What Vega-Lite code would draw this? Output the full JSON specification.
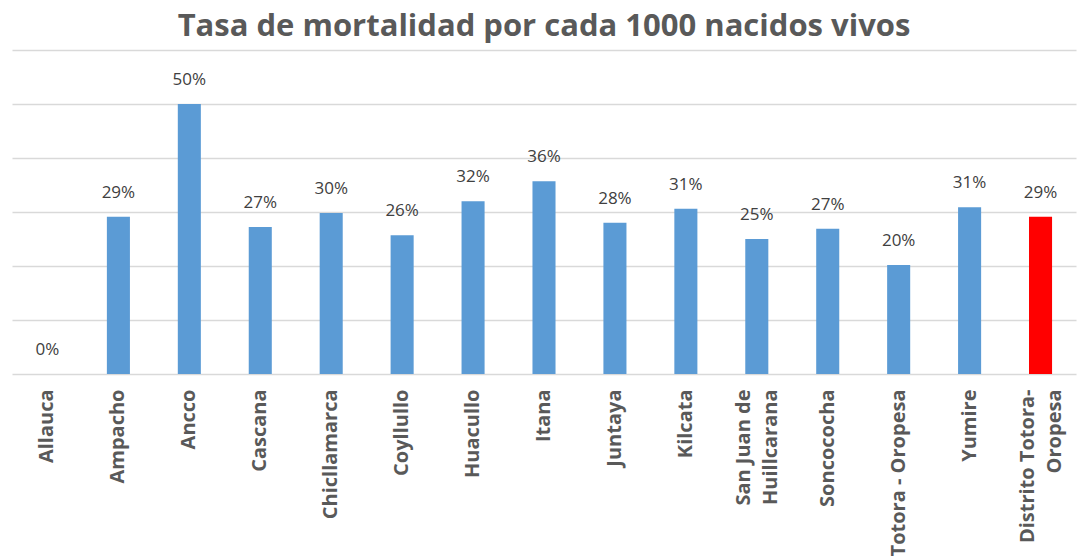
{
  "$schema": "https://vega.github.io/schema/vega-lite/v6.json",
  "width": 1064,
  "height": 324,
  "autosize": {"type": "none"},
  "padding": {"left": 12, "top": 50, "right": 7, "bottom": 183},
  "background": "white",
  "title": {
    "text": "Tasa de mortalidad por cada 1000 nacidos vivos",
    "font": "Open Sans",
    "fontSize": 31,
    "fontWeight": "bold",
    "color": "#595959",
    "anchor": "middle",
    "baseline": "alphabetic",
    "offset": 12,
    "dy": 29
  },
  "data": {
    "values": [
      {"lugar": "Allauca", "tasa": 0.0, "tipo": "c"},
      {"lugar": "Ampacho", "tasa": 0.291, "tipo": "c"},
      {"lugar": "Ancco", "tasa": 0.50, "tipo": "c"},
      {"lugar": "Cascana", "tasa": 0.272, "tipo": "c"},
      {"lugar": "Chicllamarca", "tasa": 0.298, "tipo": "c"},
      {"lugar": "Coyllullo", "tasa": 0.257, "tipo": "c"},
      {"lugar": "Huacullo", "tasa": 0.32, "tipo": "c"},
      {"lugar": "Itana", "tasa": 0.357, "tipo": "c"},
      {"lugar": "Juntaya", "tasa": 0.28, "tipo": "c"},
      {"lugar": "Kilcata", "tasa": 0.306, "tipo": "c"},
      {"lugar": "San Juan de Huillcarana", "tasa": 0.25, "tipo": "c"},
      {"lugar": "Soncococha", "tasa": 0.269, "tipo": "c"},
      {"lugar": "Totora - Oropesa", "tasa": 0.202, "tipo": "c"},
      {"lugar": "Yumire", "tasa": 0.309, "tipo": "c"},
      {"lugar": "Distrito Totora-Oropesa", "tasa": 0.291, "tipo": "d"}
    ]
  },
  "encoding": {
    "x": {
      "field": "lugar",
      "type": "nominal",
      "sort": null,
      "scale": {"paddingInner": 0.675, "paddingOuter": 0.3375},
      "axis": {
        "title": null,
        "labelAngle": -90,
        "labelAlign": "right",
        "labelBaseline": "middle",
        "labelFont": "Open Sans",
        "labelFontSize": 20,
        "labelFontWeight": "bold",
        "labelColor": "#595959",
        "labelPadding": 15,
        "labelLineHeight": 27,
        "labelLimit": 400,
        "labelOffset": {
          "condition": {"test": "datum.value == 'San Juan de Huillcarana' || datum.value == 'Distrito Totora-Oropesa'", "value": -13},
          "value": 0
        },
        "labelExpr": "datum.value == 'San Juan de Huillcarana' ? ['San Juan de', 'Huillcarana'] : datum.value == 'Distrito Totora-Oropesa' ? ['Distrito Totora-', 'Oropesa'] : datum.value",
        "ticks": false,
        "domainColor": "#d9d9d9",
        "domainWidth": 1.5,
        "grid": false
      }
    },
    "y": {
      "field": "tasa",
      "type": "quantitative",
      "scale": {"domain": [0, 0.6], "nice": false},
      "axis": {
        "title": null,
        "labels": false,
        "ticks": false,
        "domain": false,
        "values": [0.1, 0.2, 0.3, 0.4, 0.5, 0.6],
        "gridColor": "#d9d9d9",
        "gridWidth": 1.5
      }
    }
  },
  "layer": [
    {
      "mark": {"type": "bar"},
      "encoding": {
        "color": {
          "field": "tipo",
          "type": "nominal",
          "scale": {"domain": ["c", "d"], "range": ["#5b9bd5", "#ff0000"]},
          "legend": null
        }
      }
    },
    {
      "mark": {
        "type": "text",
        "baseline": "alphabetic",
        "dy": -19,
        "font": "Open Sans",
        "fontSize": 17,
        "color": "#404040"
      },
      "encoding": {
        "text": {"field": "tasa", "type": "quantitative", "format": ".0%"}
      }
    }
  ],
  "config": {
    "view": {"stroke": null}
  }
}
